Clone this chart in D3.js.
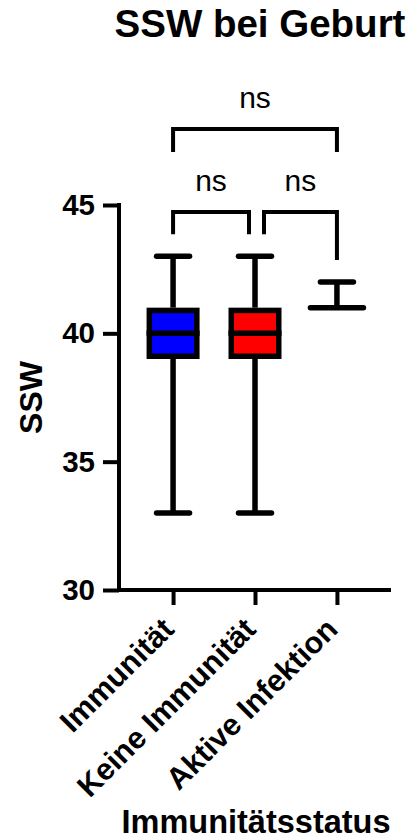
<!DOCTYPE html>
<html>
<head>
<meta charset="utf-8">
<script src="https://cdn.jsdelivr.net/npm/d3@7"></script>
<style>
  body { margin: 0; background: #fff; }
  svg { display: block; }
  text { font-family: 'Liberation Sans', Arial, sans-serif; fill: #000; }
</style>
</head>
<body>
<svg></svg>
<script>
'use strict'

// data
const groups = ['Immunität', 'Keine Immunität', 'Aktive Infektion']
const mins = [33, 33, 41]
const q1s = [39, 39, 41]
const medians = [40, 40, 41]
const q3s = [41, 41, 41]
const maxs = [43, 43, 42]
const fills = ['#0000ff', '#ff0000', '#ffffff']
const yTicks = [30, 35, 40, 45]
const comparisons = [
  { from: 0, to: 1, level: 0, label: 'ns' },
  { from: 1, to: 2, level: 0, label: 'ns' },
  { from: 0, to: 2, level: 1, label: 'ns' }
]

const width = 410,
  height = 840

const margin = { top: 205, right: 19, bottom: 250, left: 119 }

const svg = d3.select('svg').attr('width', width).attr('height', height)

const x = d3
  .scalePoint()
  .domain(groups)
  .range([margin.left, width - margin.right])
  .padding(0.66)

const y = d3
  .scaleLinear()
  .domain([30, 45])
  .range([height - margin.bottom, margin.top])

const axisW = 4

// y axis
const yAxis = svg
  .append('g')
  .attr('transform', 'translate(' + margin.left + ',0)')
  .call(
    d3
      .axisLeft(y)
      .tickValues(yTicks)
      .tickSize(16)
      .tickPadding(8)
      .tickSizeOuter(0)
  )
yAxis.select('.domain').remove()
yAxis.selectAll('line').attr('stroke', '#000').attr('stroke-width', axisW)
yAxis
  .selectAll('text')
  .style('font-size', '29.5px')
  .style('font-weight', 'bold')
  .style('font-family', "'Liberation Sans', Arial, sans-serif")
yAxis
  .append('line')
  .attr('x1', 0)
  .attr('x2', 0)
  .attr('y1', y(45) - axisW / 2)
  .attr('y2', y(30) + axisW / 2)
  .attr('stroke', '#000')
  .attr('stroke-width', axisW)

// x axis
const xAxis = svg
  .append('g')
  .attr('transform', 'translate(0,' + y(30) + ')')
  .call(d3.axisBottom(x).tickSize(15).tickFormat(''))
xAxis.select('.domain').remove()
xAxis.selectAll('line').attr('stroke', '#000').attr('stroke-width', axisW)
xAxis
  .append('line')
  .attr('x1', margin.left)
  .attr('x2', width - margin.right)
  .attr('stroke', '#000')
  .attr('stroke-width', axisW)

xAxis
  .selectAll('.tick')
  .append('text')
  .attr('transform', 'translate(2,41) rotate(-45)')
  .attr('text-anchor', 'end')
  .style('font-size', '30.5px')
  .style('font-weight', 'bold')
  .text(d => d)

// boxes
const boxW = 53,
  capW = 33,
  sw = 5.5

groups.forEach((g, i) => {
  const cx = x(g)
  const gEl = svg.append('g')

  // whiskers
  gEl
    .append('line')
    .attr('x1', cx)
    .attr('x2', cx)
    .attr('y1', y(maxs[i]))
    .attr('y2', y(q3s[i]))
    .attr('stroke', '#000')
    .attr('stroke-width', sw)
  gEl
    .append('line')
    .attr('x1', cx)
    .attr('x2', cx)
    .attr('y1', y(q1s[i]))
    .attr('y2', y(mins[i]))
    .attr('stroke', '#000')
    .attr('stroke-width', sw)
  ;[maxs[i], mins[i]].forEach(v => {
    if (v === q3s[i] || v === q1s[i]) return
    gEl
      .append('line')
      .attr('x1', cx - capW / 2)
      .attr('x2', cx + capW / 2)
      .attr('y1', y(v))
      .attr('y2', y(v))
      .attr('stroke', '#000')
      .attr('stroke-width', sw)
      .attr('stroke-linecap', 'round')
  })

  if (q3s[i] > q1s[i]) {
    gEl
      .append('rect')
      .attr('x', cx - boxW / 2 + sw / 2)
      .attr('width', boxW - sw)
      .attr('y', y(q3s[i]) + sw / 2)
      .attr('height', y(q1s[i]) - y(q3s[i]) - sw)
      .attr('fill', fills[i])
      .attr('stroke', '#000')
      .attr('stroke-width', sw)
  }
  // median (a collapsed box is just this line)
  gEl
    .append('line')
    .attr('x1', cx - boxW / 2)
    .attr('x2', cx + boxW / 2)
    .attr('y1', y(medians[i]))
    .attr('y2', y(medians[i]))
    .attr('stroke', '#000')
    .attr('stroke-width', sw)
    .attr('stroke-linecap', q3s[i] > q1s[i] ? 'butt' : 'round')
})

// significance brackets
const bw = 4
comparisons.forEach(c => {
  const by = c.level === 0 ? y(45) + 7 : y(45) + 7 - 83
  const x1 = x(groups[c.from]) + (c.level === 0 && c.from === 1 ? 9 : 0)
  const x2 = x(groups[c.to]) - (c.level === 0 && c.to === 1 ? 6 : 0)
  const leg = idx => (c.level === 0 ? y(maxs[idx]) - 22 : by + 23)
  svg
    .append('path')
    .attr(
      'd',
      'M' + x1 + ',' + leg(c.from) + 'V' + by + 'H' + x2 + 'V' + leg(c.to)
    )
    .attr('fill', 'none')
    .attr('stroke', '#000')
    .attr('stroke-width', bw)
  svg
    .append('text')
    .attr('x', (x1 + x2) / 2)
    .attr('y', by - 21)
    .attr('text-anchor', 'middle')
    .style('font-size', '30px')
    .text(c.label)
})

// titles
svg
  .append('text')
  .attr('x', 260)
  .attr('y', 37)
  .attr('text-anchor', 'middle')
  .style('font-size', '38.5px')
  .style('font-weight', 'bold')
  .text('SSW bei Geburt')

svg
  .append('text')
  .attr('transform', 'translate(42,' + (y(30) + y(45)) / 2 + ') rotate(-90)')
  .attr('text-anchor', 'middle')
  .style('font-size', '32px')
  .style('font-weight', 'bold')
  .text('SSW')

svg
  .append('text')
  .attr('x', (margin.left + width - margin.right) / 2 + 1)
  .attr('y', 833)
  .attr('text-anchor', 'middle')
  .style('font-size', '32.5px')
  .style('font-weight', 'bold')
  .text('Immunitätsstatus')
</script>
</body>
</html>
